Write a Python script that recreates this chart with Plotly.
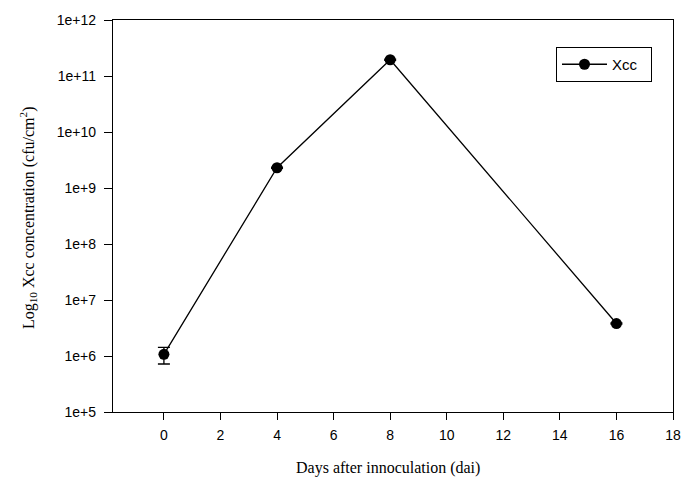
import plotly.graph_objects as go

days = [0, 4, 8, 16]
xcc = [1.07e6, 2.3e9, 1.95e11, 3.8e6]
xcc_err = [0.35e6, 0.05e9, 0.05e11, 0.1e6]
x_ticks = [0, 2, 4, 6, 8, 10, 12, 14, 16, 18]
y_tickvals = [1e5, 1e6, 1e7, 1e8, 1e9, 1e10, 1e11, 1e12]
y_ticktext = ["1e+5", "1e+6", "1e+7", "1e+8", "1e+9", "1e+10", "1e+11", "1e+12"]

# plot area in screen px: x 113..673, y 20..412 (body margin removed below)
W, H = 682, 483
L, T = 113, 20
R, B = 682 - 673, 483 - 412
pw, ph = 560, 392

fig = go.Figure()
fig.add_trace(go.Scatter(
    x=days, y=xcc, mode="lines+markers", name="Xcc\u00a0\u00a0",
    line=dict(color="black", width=1.3),
    marker=dict(color="black", size=11),
    error_y=dict(type="data", array=xcc_err, visible=True, color="black", thickness=1.3, width=6),
))

serif = "Liberation Serif, Times New Roman"
fig.add_annotation(text="Days after innoculation (dai)", xref="paper", yref="paper",
                   x=(388 - 113) / pw, y=(412 - 468) / ph, showarrow=False,
                   xanchor="center", yanchor="middle", font=dict(family=serif, size=16))
fig.add_annotation(text="Log<sub>10</sub> Xcc concentration (cfu/cm<sup>2</sup>)",
                   xref="paper", yref="paper", textangle=-90,
                   x=(28 - 113) / pw, y=(412 - 218) / ph, showarrow=False,
                   xanchor="center", yanchor="middle", font=dict(family=serif, size=16))

fig.update_layout(
    width=W, height=H,
    margin=dict(l=L, r=R, t=T, b=B),
    paper_bgcolor="white", plot_bgcolor="white",
    font=dict(family="Liberation Sans, Arial", size=14, color="black"),
    showlegend=True,
    legend=dict(x=(556 - 113) / pw, y=(412 - 47) / ph, xanchor="left", yanchor="top",
                bordercolor="black", borderwidth=1, bgcolor="white", itemwidth=45,
                font=dict(family="Liberation Sans, Arial", size=15)),
    xaxis=dict(range=[-1.8, 18], tickvals=x_ticks, ticks="outside", ticklen=7,
               tickwidth=1, tickcolor="black", showline=True, linecolor="black",
               linewidth=1.3, mirror=True, showgrid=False, zeroline=False,
               automargin=False, ticklabelstandoff=3, ticklabeloverflow="allow"),
    yaxis=dict(type="log", range=[5, 12], tickvals=y_tickvals, ticktext=y_ticktext,
               ticks="outside", ticklen=8, tickwidth=1, tickcolor="black",
               showline=True, linecolor="black", linewidth=1.3, mirror=True,
               showgrid=False, zeroline=False, automargin=False, ticklabelstandoff=5,
               ticklabeloverflow="allow"),
)

fig.write_html("out.html", config={"displayModeBar": False},
               post_script="document.body.style.margin='0';document.body.style.overflow='hidden';")
